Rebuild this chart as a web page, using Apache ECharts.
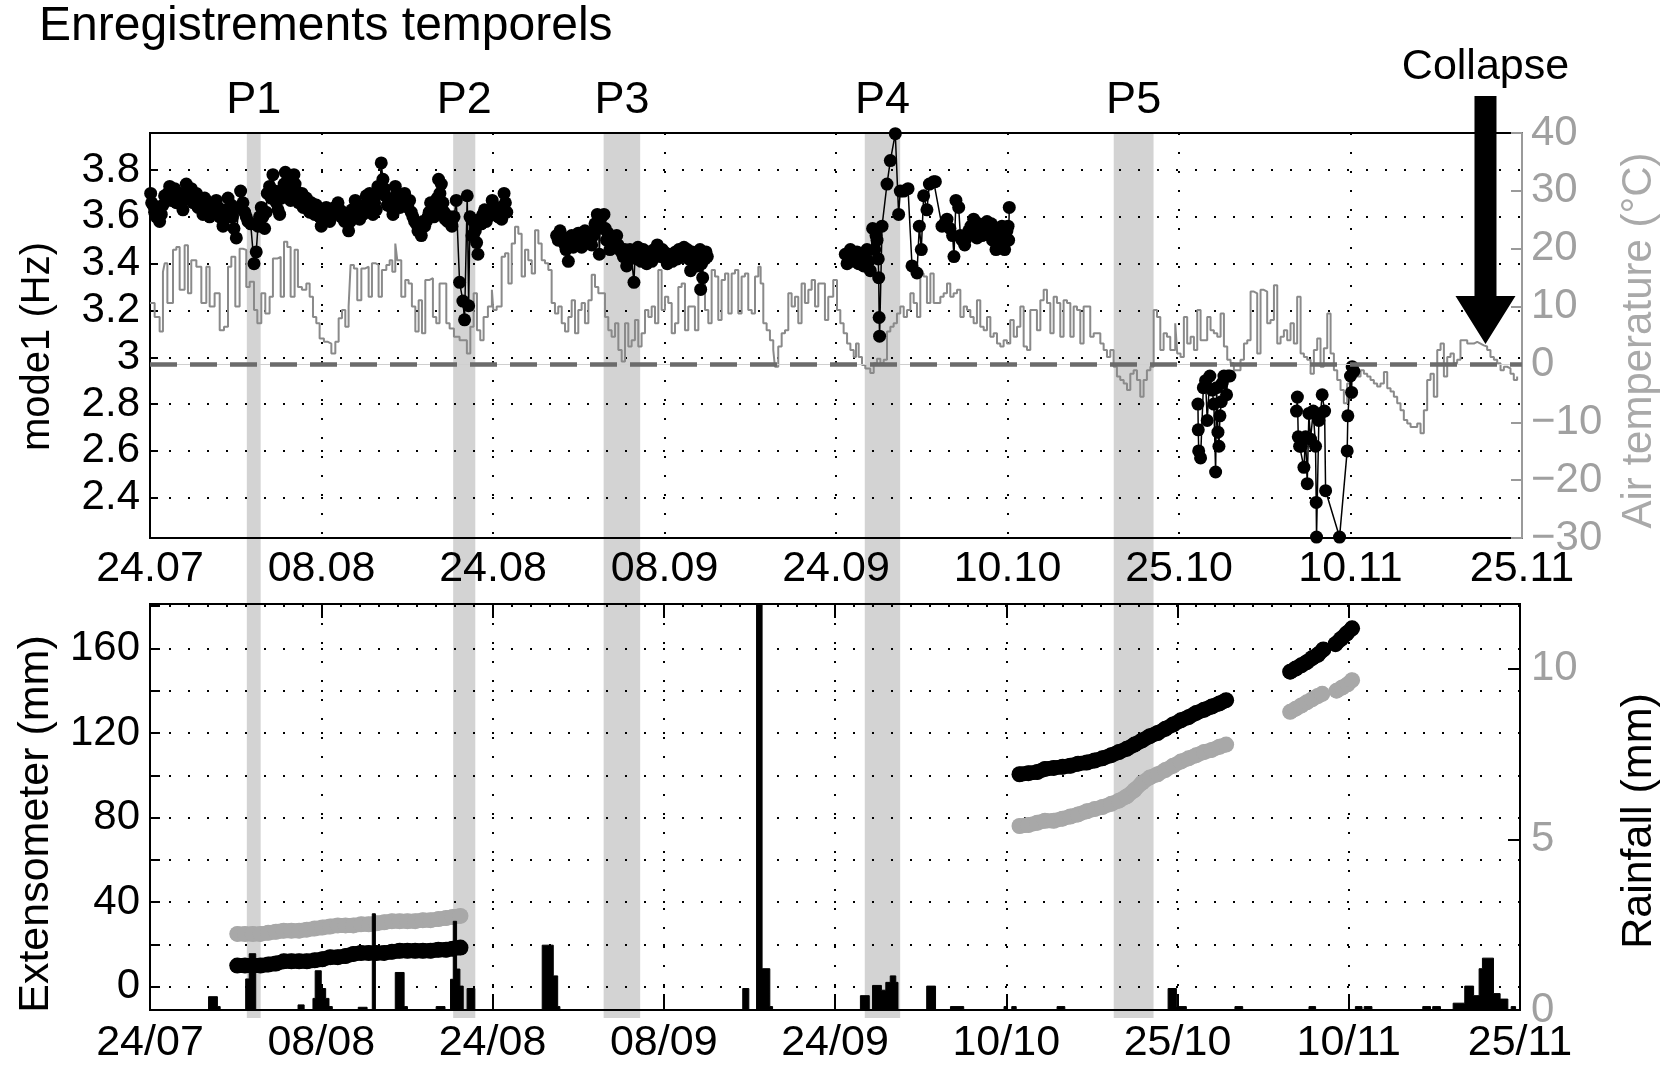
<!DOCTYPE html>
<html><head><meta charset="utf-8">
<script src="https://cdn.jsdelivr.net/npm/echarts@6/dist/echarts.min.js"></script>
<style>html,body{margin:0;padding:0;background:#fff}#c{width:1669px;height:1065px}</style>
</head><body><div id="c"></div>
<script>
// ---------- DATA (x = days since 24 July) ----------
const xTicksTop = ['24.07','08.08','24.08','08.09','24.09','10.10','25.10','10.11','25.11'];
const xTicksBottom = ['24/07','08/08','24/08','08/09','24/09','10/10','25/10','10/11','25/11'];
const bands = [['P1',8.75,10.0],['P2',27.4,29.4],['P3',41.0,44.3],['P4',64.6,67.8],['P5',87.1,90.7]];
const collapseDay = 120.7;

const mode1Seg1 = [[0.06,3.70],[0.27,3.65],[0.57,3.60],[0.87,3.58],[1.17,3.65],[1.48,3.67],[1.78,3.73],[2.08,3.69],[2.38,3.66],[2.68,3.70],[2.98,3.63],[3.28,3.74],[3.58,3.71],[3.89,3.66],[4.19,3.70],[4.49,3.67],[4.79,3.61],[5.09,3.66],[5.39,3.60],[5.69,3.64],[5.99,3.67],[6.30,3.60],[6.60,3.56],[6.90,3.63],[7.05,3.68],[7.35,3.65],[7.59,3.55],[7.80,3.51],[8.01,3.64],[8.19,3.71],[8.55,3.62],[8.86,3.58],[9.40,3.40],[9.76,3.56],[10.06,3.64],[10.36,3.55],[10.60,3.70],[10.81,3.73],[11.11,3.78],[11.42,3.66],[11.72,3.61],[12.02,3.72],[12.23,3.79],[12.47,3.76],[12.71,3.67],[13.01,3.78],[13.22,3.71],[13.43,3.66],[13.73,3.70],[13.98,3.67],[14.28,3.64],[14.58,3.66],[14.88,3.61],[15.18,3.63],[15.48,3.56],[15.78,3.61],[16.08,3.62],[16.39,3.60],[16.69,3.64],[16.99,3.66],[17.29,3.60],[17.59,3.58],[17.95,3.54],[18.25,3.63],[18.55,3.67],[18.95,3.59],[19.25,3.61],[19.55,3.69],[19.85,3.70],[20.15,3.61],[20.45,3.63],[20.60,3.73],[20.90,3.83],[21.05,3.76],[21.27,3.69],[21.66,3.67],[21.96,3.61],[22.17,3.73],[22.47,3.68],[22.71,3.66],[23.01,3.70],[23.31,3.64],[23.61,3.62],[23.92,3.58],[24.22,3.54],[24.52,3.52],[24.82,3.56],[25.12,3.60],[25.36,3.66],[25.66,3.60],[25.87,3.63],[26.08,3.76],[26.33,3.74],[26.48,3.66],[26.69,3.59],[27.29,3.56],[27.68,3.67],[27.98,3.32],[28.28,3.24],[28.43,3.16],[28.67,3.69],[28.80,3.22],[28.92,3.60],[29.10,3.52],[29.40,3.54],[29.64,3.44],[29.79,3.59],[30.09,3.61],[30.39,3.58],[30.69,3.61],[30.93,3.67],[31.18,3.64],[31.48,3.60],[31.78,3.59],[32.00,3.70],[32.24,3.62]];
const mode1Seg1Extra = [[0.15,3.66],[0.42,3.62],[0.72,3.63],[1.02,3.61],[1.32,3.69],[1.62,3.70],[1.93,3.67],[2.23,3.72],[2.53,3.68],[2.83,3.66],[3.13,3.69],[3.43,3.68],[3.73,3.72],[4.04,3.68],[4.34,3.64],[4.64,3.65],[4.94,3.68],[5.24,3.63],[5.54,3.62],[5.84,3.62],[6.15,3.64],[6.45,3.63],[6.75,3.59],[7.20,3.62],[7.45,3.60],[8.40,3.66],[8.70,3.60],[9.10,3.57],[9.60,3.45],[9.90,3.60],[10.20,3.60],[10.50,3.62],[10.95,3.68],[11.27,3.71],[11.57,3.63],[11.87,3.68],[12.12,3.74],[12.35,3.71],[12.59,3.72],[12.86,3.73],[13.11,3.74],[13.33,3.68],[13.58,3.68],[13.85,3.64],[14.13,3.68],[14.43,3.62],[14.73,3.64],[15.03,3.65],[15.33,3.60],[15.63,3.58],[15.93,3.64],[16.24,3.58],[16.54,3.63],[16.84,3.62],[17.14,3.63],[17.44,3.62],[17.77,3.60],[18.10,3.58],[18.40,3.60],[18.75,3.64],[19.10,3.63],[19.40,3.65],[19.70,3.66],[20.00,3.64],[20.30,3.66],[20.75,3.70],[21.16,3.72],[21.46,3.65],[21.81,3.64],[22.06,3.68],[22.32,3.70],[22.59,3.64],[22.86,3.67],[23.16,3.66],[23.46,3.67],[23.76,3.60],[24.07,3.57],[24.37,3.55],[24.67,3.58],[24.97,3.58],[25.24,3.62],[25.51,3.64],[25.76,3.61],[25.97,3.68],[26.20,3.70],[26.58,3.62],[26.90,3.58],[27.10,3.60],[27.48,3.60],[29.25,3.58],[29.52,3.49],[29.95,3.57],[30.24,3.63],[30.54,3.60],[30.81,3.63],[31.05,3.61],[31.33,3.62],[31.63,3.64],[31.90,3.64],[32.12,3.66]];
const mode1Seg2 = [[36.75,3.52],[37.06,3.54],[37.36,3.50],[37.60,3.46],[37.81,3.41],[38.11,3.52],[38.41,3.49],[38.71,3.53],[39.01,3.47],[39.31,3.54],[39.62,3.52],[39.92,3.48],[40.22,3.57],[40.43,3.61],[40.61,3.44],[40.82,3.60],[41.03,3.61],[41.27,3.50],[41.57,3.46],[41.87,3.49],[42.18,3.52],[42.48,3.46],[42.78,3.43],[43.08,3.39],[43.38,3.46],[43.74,3.32],[43.98,3.42],[44.28,3.44],[44.59,3.46],[44.89,3.40],[45.19,3.43],[45.55,3.46],[45.85,3.48],[46.15,3.43],[46.45,3.45],[46.75,3.40],[47.06,3.43],[47.36,3.44],[47.66,3.42],[47.96,3.44],[48.26,3.47],[48.56,3.46],[48.86,3.37],[49.16,3.43],[49.46,3.39],[49.71,3.46],[49.77,3.29],[49.95,3.34],[50.16,3.42],[50.37,3.43]];
const mode1Seg2Extra = [[36.9,3.50],[37.2,3.51],[37.5,3.48],[37.7,3.51],[37.95,3.50],[38.25,3.47],[38.55,3.51],[38.85,3.49],[39.15,3.51],[39.45,3.49],[39.75,3.50],[40.05,3.52],[40.35,3.55],[40.52,3.59],[40.7,3.57],[40.92,3.55],[41.15,3.55],[41.4,3.53],[41.7,3.50],[42.0,3.47],[42.3,3.48],[42.6,3.45],[42.9,3.46],[43.2,3.44],[43.5,3.43],[43.85,3.45],[44.1,3.47],[44.4,3.41],[44.75,3.44],[45.05,3.45],[45.35,3.41],[45.7,3.44],[46.0,3.44],[46.3,3.46],[46.6,3.42],[46.9,3.44],[47.2,3.41],[47.5,3.45],[47.8,3.46],[48.1,3.43],[48.4,3.44],[48.7,3.42],[49.0,3.45],[49.3,3.41],[49.6,3.44],[49.85,3.40],[50.05,3.44],[50.25,3.45]];
const mode1Seg3 = [[62.84,3.44],[63.00,3.40],[63.15,3.43],[63.45,3.42],[63.75,3.43],[64.05,3.40],[64.30,3.44],[64.50,3.39],[64.80,3.46],[65.10,3.37],[65.31,3.55],[65.50,3.46],[65.62,3.52],[65.71,3.50],[65.82,3.42],[65.86,3.34],[65.90,3.17],[65.94,3.09],[66.16,3.56],[66.61,3.74],[66.91,3.84],[67.36,3.955],[67.66,3.61],[67.81,3.71],[68.12,3.71],[68.51,3.72],[68.87,3.39],[69.32,3.36],[69.53,3.56],[69.71,3.46],[69.92,3.69],[70.22,3.63],[70.44,3.74],[70.83,3.75],[70.98,3.75],[71.58,3.56],[72.03,3.59],[72.54,3.52],[72.66,3.43],[72.84,3.67],[73.09,3.64],[73.24,3.52],[73.63,3.48],[73.99,3.54],[74.44,3.59],[74.74,3.51],[75.04,3.54],[75.35,3.56],[75.65,3.58],[76.04,3.57],[76.25,3.53],[76.46,3.46],[76.70,3.49],[77.00,3.56],[77.24,3.46],[77.45,3.54],[77.60,3.50],[77.66,3.64]];
const mode1Seg3Extra = [[63.3,3.46],[63.6,3.41],[63.9,3.45],[64.2,3.42],[64.65,3.42],[64.95,3.41],[71.8,3.57],[72.3,3.55],[73.4,3.50],[73.8,3.51],[74.2,3.56],[74.6,3.53],[74.9,3.57],[75.2,3.52],[75.5,3.55],[75.8,3.54],[76.15,3.50],[76.55,3.52],[76.85,3.50],[77.1,3.48],[77.35,3.52],[77.55,3.56]];
const mode1Seg4 = [[94.71,2.80],[94.74,2.69],[94.78,2.60],[94.95,2.57],[95.20,2.87],[95.40,2.90],[95.55,2.73],[95.79,2.92],[96.00,2.86],[96.15,2.80],[96.31,2.51],[96.40,2.87],[96.52,2.68],[96.61,2.62],[96.70,2.75],[96.82,2.81],[96.91,2.89],[97.06,2.92],[97.30,2.84],[97.42,2.92],[97.60,2.92]];
const mode1Seg5 = [[103.62,2.77],[103.70,2.83],[103.78,2.66],[103.90,2.62],[104.05,2.62],[104.29,2.53],[104.44,2.66],[104.59,2.46],[104.74,2.76],[104.89,2.65],[105.13,2.77],[105.34,2.62],[105.40,2.38],[105.43,2.232],[105.64,2.73],[105.79,2.76],[105.94,2.84],[106.16,2.77],[106.25,2.43],[107.51,2.232],[108.20,2.60],[108.26,2.75],[108.50,2.92],[108.60,2.85],[108.65,2.96],[108.80,2.94]];

const tempJulAug = [[0.0,10.6],[0.42,8.2],[0.87,5.7],[1.17,16.0],[1.33,17.5],[1.57,10.6],[2.08,19.8],[2.38,20.3],[2.68,12.9],[3.13,20.6],[3.43,12.3],[3.73,18.0],[4.19,16.9],[4.64,10.6],[5.09,16.9],[5.39,10.0],[5.84,12.3],[6.30,5.9],[6.69,6.5],[7.05,16.9],[7.35,18.6],[7.71,10.0],[8.10,20.0],[8.40,19.8],[8.70,13.4],[9.01,14.3],[9.40,9.4],[9.70,7.1],[10.06,12.3],[10.42,8.8],[10.81,11.7],[11.11,18.3],[11.51,18.6],[11.81,11.7],[12.11,21.2],[12.41,20.3],[12.71,11.7],[13.07,19.8],[13.37,13.4],[13.73,12.9],[14.13,14.0],[14.43,11.7],[14.73,8.2],[15.03,7.1],[15.33,4.5],[15.72,3.9],[16.08,3.6],[16.39,1.9],[16.75,3.9],[17.05,8.0],[17.35,9.4],[17.65,6.5],[17.95,10.0],[18.13,17.2],[18.43,16.6],[18.73,11.1],[19.10,16.6],[19.46,16.9],[19.76,11.7],[20.06,17.5],[20.36,17.2],[20.66,11.7],[20.96,16.3],[21.36,17.2],[21.66,18.0],[21.90,16.0],[22.17,20.9],[22.35,18.0],[22.71,11.7],[23.07,14.6],[23.37,14.0],[23.67,10.0],[23.98,5.7],[24.28,11.1],[24.58,5.4],[24.88,14.6],[25.27,14.9],[25.57,8.2],[25.87,7.1],[26.17,14.0],[26.48,14.0],[26.78,7.1],[27.08,6.2],[27.47,4.8],[27.98,4.2],[28.37,4.2],[28.64,1.9],[28.95,6.5],[29.25,12.3],[29.55,5.9],[29.85,4.2],[30.15,8.2],[30.54,10.0],[30.90,12.9]];
const tempAugSep = [[31.03,9.4],[31.33,10.0],[31.78,18.6],[32.09,19.2],[32.39,14.0],[32.69,20.9],[32.99,23.8],[33.29,22.6],[33.59,15.2],[33.89,19.8],[34.19,18.0],[34.50,15.7],[34.80,23.2],[35.10,20.9],[35.40,18.0],[35.70,17.5],[36.00,16.3],[36.30,10.6],[36.60,8.8],[36.90,10.0],[37.21,7.1],[37.51,5.7],[37.81,8.2],[38.11,11.1],[38.41,5.4],[38.71,9.4],[39.01,10.6],[39.31,7.1],[39.62,11.1],[39.92,15.5],[40.22,13.4],[40.52,12.3],[40.82,12.3],[41.12,8.2],[41.42,5.9],[41.72,4.8],[42.03,7.1],[42.33,2.5],[42.63,0.5],[42.93,7.1],[43.23,3.1],[43.53,4.2],[43.83,7.7],[44.13,3.1],[44.43,5.4],[44.74,9.4],[45.04,8.2],[45.34,10.0],[45.64,7.1],[45.94,16.3],[46.24,9.4],[46.54,11.7],[46.84,10.6],[47.15,5.4],[47.45,7.1],[47.75,13.4],[48.05,14.0],[48.35,5.9],[48.65,10.0],[48.95,10.0],[49.25,5.9],[49.56,13.4],[49.86,15.2],[50.16,9.4],[50.46,7.1],[50.76,16.3],[51.06,15.2],[51.36,7.7],[51.66,14.6],[51.97,15.7],[52.27,8.8],[52.57,15.7],[52.87,16.3],[53.17,8.8],[53.47,15.2],[53.77,15.7],[54.07,9.4],[54.38,8.8],[54.68,15.2],[54.98,16.9],[55.19,14.0],[55.43,7.1],[55.73,5.9],[56.03,4.2],[56.33,2.5],[56.48,-0.4],[56.78,3.1],[57.09,5.4],[57.39,5.9],[57.69,12.3],[57.99,10.0],[58.29,11.7],[58.59,7.1],[58.89,14.0],[59.19,10.6],[59.50,12.9],[59.80,14.6],[60.10,10.0],[60.40,14.0],[60.70,14.0],[61.00,7.7],[61.30,11.7],[61.75,14.6]];
const tempSepOct = [[62.09,9.4],[62.39,7.1],[62.69,5.4],[63.00,3.6],[63.30,2.5],[63.60,1.3],[63.81,3.6],[64.05,1.3],[64.35,-0.1],[64.65,-0.7],[65.10,-1.5],[65.41,0.2],[65.71,1.0],[66.01,0.2],[66.31,0.8],[66.61,5.7],[66.91,6.5],[67.21,7.1],[67.51,8.8],[67.81,10.0],[68.12,8.2],[68.42,9.4],[68.72,12.3],[69.02,10.6],[69.32,8.2],[69.62,15.7],[69.92,15.2],[70.22,10.6],[70.53,15.7],[70.83,10.6],[71.13,10.6],[71.43,11.7],[71.73,12.3],[72.03,14.0],[72.33,11.7],[72.63,12.3],[72.94,12.9],[73.24,8.2],[73.54,10.0],[73.84,9.4],[74.14,8.2],[74.44,7.1],[74.74,11.1],[75.04,6.5],[75.35,5.9],[75.65,8.2],[75.95,4.8],[76.25,5.4],[76.55,3.6],[76.85,3.1],[77.15,4.2],[77.45,3.6],[77.75,7.7],[78.06,4.8],[78.36,6.5],[78.66,10.0],[78.96,3.1],[79.26,2.5],[79.56,9.4],[79.86,9.4],[80.16,5.9],[80.47,11.1],[80.77,12.9],[81.07,10.6],[81.37,5.4],[81.67,11.7],[81.97,10.6],[82.27,4.8],[82.57,11.1],[82.88,10.6],[83.18,4.8],[83.48,10.0],[83.78,9.4],[84.08,3.6],[84.38,10.0],[84.68,10.0],[84.98,4.8],[85.29,5.4],[85.59,5.4],[85.89,3.6],[86.19,2.5],[86.49,1.3],[86.79,2.5],[87.09,-0.4],[87.39,-2.1],[87.69,-2.7],[88.00,-3.3],[88.30,-4.4],[88.60,-1.6],[88.90,-1.0],[89.20,-2.7],[89.50,-5.6],[89.80,-2.7],[90.10,-1.0],[90.41,-0.4],[90.71,9.4],[91.01,8.2],[91.31,2.5],[91.61,5.4],[91.91,4.8],[92.21,2.5],[92.66,7.1]];
const tempOctNov = [[92.84,1.9],[93.14,1.3],[93.44,8.2],[93.74,3.6],[94.05,4.8],[94.35,2.5],[94.65,9.4],[94.95,4.2],[95.25,4.2],[95.55,8.2],[95.85,5.9],[96.15,5.4],[96.46,4.8],[96.76,8.8],[97.06,3.1],[97.36,0.8],[97.66,0.2],[97.96,-1.0],[98.26,-1.0],[98.56,0.8],[98.87,3.6],[99.17,4.2],[99.47,12.6],[99.77,12.3],[100.07,1.9],[100.37,12.9],[100.67,12.6],[100.97,7.1],[101.27,7.7],[101.58,13.7],[101.88,3.6],[102.18,4.8],[102.48,5.9],[102.78,4.2],[103.08,7.1],[103.38,3.6],[103.68,11.7],[103.99,1.9],[104.29,1.3],[104.59,0.8],[104.89,-1.6],[105.19,2.5],[105.49,4.5],[105.79,-0.4],[106.09,2.8],[106.40,8.8],[106.70,1.9],[107.00,-1.0],[107.30,-2.7],[107.60,-4.4],[107.90,-6.7],[108.20,-3.3],[108.50,-1.0],[108.81,-1.0],[109.11,-2.1],[109.41,-1.0],[109.71,-1.6],[110.01,-2.1],[110.31,-2.7],[110.61,-3.3],[110.91,-3.8],[111.21,-3.3],[111.52,-1.3],[111.82,-4.1],[112.12,-4.7],[112.42,-5.6],[112.72,-6.7],[113.02,-7.9],[113.32,-9.6],[113.63,-10.2],[113.93,-10.8],[114.23,-10.8],[114.53,-10.2],[114.83,-11.9],[115.13,-7.9],[115.43,-2.7],[115.73,-1.6],[116.03,-5.6],[116.34,2.5],[116.64,3.6],[116.94,-2.1],[117.24,1.3],[117.54,1.9],[117.84,0.2],[118.14,0.8],[118.44,4.2],[118.75,4.2],[119.05,3.6],[119.35,3.6],[119.65,3.9],[119.95,3.6],[120.25,3.3],[120.55,3.1],[120.85,2.5],[121.15,1.3],[121.46,0.8],[121.76,0.2],[122.06,-1.0],[122.36,-0.4],[122.66,-0.7],[122.96,-1.6],[123.26,-2.7],[123.56,-2.1]];

const extBlackSeg1 = [[7.9,10],[8.6,10],[9.3,10],[10.0,10],[10.7,10.5],[11.4,11],[12.1,12],[12.8,12],[13.5,12],[14.2,12],[14.9,12.5],[15.6,13],[16.3,14],[17.0,14],[17.7,14.5],[18.4,15.5],[19.1,16],[19.8,16],[20.5,16],[21.2,16],[21.9,16.5],[22.6,17],[23.3,17],[24.0,17],[24.7,17],[25.4,17],[26.1,17.5],[26.8,17.5],[27.4,18],[28.1,18.5]];
const extGreySeg1 = [[7.9,25],[8.6,25],[9.3,25],[10.0,25],[10.7,25.5],[11.4,26],[12.1,26.5],[12.8,26.5],[13.5,26.5],[14.2,27],[14.9,27.5],[15.6,28],[16.3,28.5],[17.0,29],[17.7,29],[18.4,29],[19.1,29.5],[19.8,29.5],[20.5,30],[21.2,30.5],[21.9,31],[22.6,31],[23.3,31],[24.0,31],[24.7,31.5],[25.4,31.5],[26.1,32],[26.8,32.5],[27.4,33],[28.1,33.5]];
const extBlackSeg2 = [[78.7,100.5],[79.5,101],[80.3,101.5],[81.0,103],[81.8,103.5],[82.6,104],[83.3,104.5],[84.0,105.5],[84.8,106],[85.5,107],[86.2,108],[87.0,109.5],[87.7,111],[88.4,112.5],[89.1,114.5],[89.8,116.5],[90.5,118.5],[91.2,120],[91.9,122],[92.6,124],[93.3,126],[94.0,127.5],[94.7,129.5],[95.4,131],[96.1,132.5],[96.8,134],[97.4,135.5]];
const extGreySeg2 = [[78.7,76],[79.5,76.5],[80.3,77.5],[81.0,78.5],[81.8,78.5],[82.6,79.5],[83.3,80.5],[84.0,81.5],[84.8,83],[85.5,84],[86.2,85],[87.0,86.5],[87.7,88],[88.4,90],[89.1,93],[89.8,96.5],[90.5,99],[91.2,100.5],[91.9,102.5],[92.6,104.5],[93.3,106.5],[94.0,108],[94.7,109.5],[95.4,111],[96.1,112],[96.8,113.5],[97.4,114.5]];
const extBlackSeg3 = [[103.2,149],[103.7,150.5],[104.2,152],[104.7,153.5],[105.2,155.5],[105.7,157],[106.2,159.5]];
const extBlackSeg4 = [[107.3,162],[107.8,164.5],[108.3,167],[108.8,169.5]];
const extGreySeg3 = [[103.2,130],[103.7,131.5],[104.2,133],[104.7,134.5],[105.2,136],[105.7,137.5],[106.1,138.5]];
const extGreySeg4 = [[107.4,140],[107.9,141.5],[108.4,143],[108.8,145]];

// rainfall: [day, mm] held until the next entry
const rainfall = [[0,0],[5.3,0.39],[6.1,0.1],[6.35,0],[8.66,0.91],[8.98,1.65],[9.57,0],[13.4,0.15],[13.95,0],[14.75,0.34],[14.95,1.15],[15.5,0.63],[15.9,0.34],[16.2,0.1],[16.5,0],[18.85,0.08],[19.65,0],[20.12,2.82],[20.4,0],[22.2,1.1],[23.0,0.1],[23.3,0],[25.9,0.1],[26.7,0],[27.2,0.9],[27.45,2.6],[27.75,1.2],[28.05,0.7],[28.35,0],[28.7,0.63],[29.4,0],[35.5,1.9],[36.5,1.0],[36.9,0.1],[37.1,0],[53.65,0.63],[54.2,0],[54.9,12.5],[55.4,1.21],[56.1,0.1],[56.35,0],[64.3,0.42],[65.1,0],[65.4,0.72],[66.2,0.58],[66.6,0.81],[67.0,1.0],[67.5,0.81],[67.7,0],[70.3,0.70],[71.1,0],[72.45,0.1],[73.65,0],[77.3,0.1],[77.6,0],[78.0,0.1],[78.4,0],[82.1,0.1],[82.8,0],[92.15,0.63],[92.9,0.1],[93.8,0],[98.2,0.1],[98.9,0],[104.9,0.1],[105.5,0],[109.1,0.1],[109.7,0],[109.9,0.1],[110.6,0],[115.2,0.1],[115.9,0],[116.1,0.1],[116.8,0],[117.95,0.2],[119.0,0.70],[119.8,0.42],[120.3,1.21],[120.6,1.52],[121.6,0.48],[122.2,0.32],[122.9,0],[123.2,0.1],[123.6,0],[124,0]];

// ---------- LAYOUT ----------
const FONT = 'Liberation Sans, Arial, sans-serif';
const G1 = {left:150, right:147, top:133, height:405};
const G2 = {left:150, right:147, top:604, height:408};
const dotted = {color:'#000', type:[2,17], width:2};

const byDay = (a, b) => a[0] - b[0];
const temperature = tempJulAug.concat(tempAugSep, tempSepOct, tempOctNov);
const mode1Segments = [
  mode1Seg1.concat(mode1Seg1Extra).sort(byDay),
  mode1Seg2.concat(mode1Seg2Extra).sort(byDay),
  mode1Seg3.concat(mode1Seg3Extra).sort(byDay),
  mode1Seg4, mode1Seg5
];

function xAxisCfg(grid, labels, opts) {
  return Object.assign({
    gridIndex: grid, type:'value', min:0, max:124, interval:15.5,
    axisLine:{show:false, onZero:false}, axisTick:{show:false},
    axisLabel:{fontSize:43, color:'#000', fontFamily:FONT, margin:10,
      formatter: v => labels[Math.round(v/15.5)] || ''},
    splitLine:{show:true, lineStyle:dotted}
  }, opts || {});
}

const series = [];
series.push({
  type:'line', name:'temp', xAxisIndex:0, yAxisIndex:1, data: temperature, step:'end',
  showSymbol:false, lineStyle:{color:'#8a8a8a', width:2}, z:2,
  markLine:{silent:true, symbol:['none','none'], label:{show:false}, animation:false,
    data:[{yAxis:0, lineStyle:{color:'#cfcfcf', width:1, type:'solid'}},
          {yAxis:0, lineStyle:{color:'#6b6b6b', width:4.5, type:[27,13]}}]}
});
mode1Segments.forEach(d => series.push({
  type:'line', xAxisIndex:0, yAxisIndex:0, data:d, symbol:'circle', symbolSize:13, showSymbol:true,
  itemStyle:{color:'#000'}, lineStyle:{color:'#000', width:1.5}, z:4
}));
[[extGreySeg1,'#a8a8a8'],[extGreySeg2,'#a8a8a8'],[extGreySeg3,'#a8a8a8'],[extGreySeg4,'#a8a8a8'],
 [extBlackSeg1,'#000'],[extBlackSeg2,'#000'],[extBlackSeg3,'#000'],[extBlackSeg4,'#000']].forEach(([d,c]) => series.push({
  type:'line', xAxisIndex:1, yAxisIndex:2, data:d, symbol:'circle', symbolSize:16, showSymbol:true,
  itemStyle:{color:c}, lineStyle:{color:c, width:15, cap:'round', join:'round'}, z:3
}));
series.push({
  type:'line', xAxisIndex:1, yAxisIndex:3, data:rainfall, step:'end', showSymbol:false,
  lineStyle:{color:'#000', width:1}, areaStyle:{color:'#000', opacity:1}, z:5
});

const option = {
  backgroundColor:'#fff', animation:false,
  grid:[
    Object.assign({show:true, borderColor:'#000', borderWidth:2}, G1),
    Object.assign({show:true, borderColor:'#000', borderWidth:2}, G2)
  ],
  xAxis:[
    xAxisCfg(0, xTicksTop),
    xAxisCfg(1, xTicksBottom, {
      axisLine:{show:true, onZero:false, lineStyle:{color:'#000', width:2}},
      axisTick:{show:true, inside:true, length:16, lineStyle:{color:'#000', width:2}},
      axisLabel:{fontSize:43, color:'#000', fontFamily:FONT, margin:12, formatter: v => xTicksBottom[Math.round(v/15.5)] || ''}
    }),
    xAxisCfg(1, xTicksBottom, {position:'top',
      axisLine:{show:true, onZero:false, lineStyle:{color:'#000', width:2}},
      axisTick:{show:true, inside:true, length:14, lineStyle:{color:'#000', width:2}},
      axisLabel:{show:false}, splitLine:{show:false}})
  ],
  yAxis:[
    {gridIndex:0, type:'value', position:'left', min:2.228, max:3.958, minInterval:0.2, maxInterval:0.2,
     name:'mode1 (Hz)', nameLocation:'middle', nameGap:92, nameRotate:90,
     nameTextStyle:{fontSize:40, color:'#000', fontFamily:FONT, padding:[0,22,0,0]},
     axisLine:{show:true, onZero:false, lineStyle:{color:'#000', width:2}},
     axisTick:{show:true, inside:true, length:8, lineStyle:{color:'#000', width:2}},
     axisLabel:{fontSize:42, color:'#000', fontFamily:FONT, margin:10,
       formatter: v => { const r = Math.round(v*5)/5; return Math.abs(v-r) > 1e-6 ? '' : String(parseFloat(r.toFixed(1))); }},
     splitLine:{show:true, lineStyle:dotted}},
    {gridIndex:0, type:'value', position:'right', min:-30, max:40, interval:10,
     name:'Air temperature (°C)', nameLocation:'middle', nameGap:96, nameRotate:90,
     nameTextStyle:{fontSize:42, color:'#a9a9a9', fontFamily:FONT, padding:[0,10,0,0]},
     axisLine:{show:true, onZero:false, lineStyle:{color:'#9a9a9a', width:2}},
     axisTick:{show:true, inside:true, length:11, lineStyle:{color:'#9a9a9a', width:2}},
     axisLabel:{fontSize:42, color:'#a0a0a0', fontFamily:FONT, margin:9,
       formatter: v => v < 0 ? '\u2212' + (-v) : String(v)},
     splitLine:{show:false}},
    {gridIndex:1, type:'value', position:'left', min:-11, max:181, minInterval:20, maxInterval:20,
     name:'Extensometer (mm)', nameLocation:'middle', nameGap:92, nameRotate:90,
     nameTextStyle:{fontSize:43, color:'#000', fontFamily:FONT, padding:[0,34,0,0]},
     axisLine:{show:true, onZero:false, lineStyle:{color:'#000', width:2}},
     axisTick:{show:true, inside:true, length:10, lineStyle:{color:'#000', width:2}},
     axisLabel:{fontSize:42, color:'#000', fontFamily:FONT, margin:10,
       formatter: v => (v >= 0 && Math.abs(v % 40) < 1e-6) ? String(v) : ''},
     splitLine:{show:true, lineStyle:dotted}},
    {gridIndex:1, type:'value', position:'right', min:0, max:11.9, interval:5,
     name:'Rainfall (mm)', nameLocation:'middle', nameGap:98, nameRotate:90,
     nameTextStyle:{fontSize:43, color:'#000', fontFamily:FONT, padding:[0,28,0,0]},
     axisLine:{show:true, onZero:false, lineStyle:{color:'#000', width:2}},
     axisTick:{show:true, inside:true, length:12, lineStyle:{color:'#000', width:2}},
     axisLabel:{fontSize:42, color:'#a0a0a0', fontFamily:FONT, margin:11,
       formatter: v => (Math.abs(v % 5) < 1e-6) ? String(v) : ''},
     splitLine:{show:false}}
  ],
  series: series
};

const chart = echarts.init(document.getElementById('c'));
chart.setOption(option);

const px = d => chart.convertToPixel({xAxisIndex:0}, d);
const graphics = [];
graphics.push({type:'text', x:39, y:27, style:{text:'Enregistrements temporels', fontSize:48, fontFamily:FONT, fill:'#000', align:'left', verticalAlign:'middle'}});
bands.forEach(([name, a, b]) => {
  const x0 = px(a), x1 = px(b);
  graphics.push({type:'rect', z:-1, silent:true,
    shape:{x:x0, y:G1.top, width:x1-x0, height:(G2.top + G2.height + 6) - G1.top},
    style:{fill:'#d3d3d3'}});
  graphics.push({type:'text', x:(x0+x1)/2, y:101,
    style:{text:name, fontSize:45, fontFamily:FONT, fill:'#000', align:'center', verticalAlign:'middle'}});
});
const cx = px(collapseDay);
graphics.push({type:'text', x:cx, y:67, style:{text:'Collapse', fontSize:43, fontFamily:FONT, fill:'#000', align:'center', verticalAlign:'middle'}});
graphics.push({type:'polygon', z:10, shape:{points:[[cx-11,96],[cx+11,96],[cx+11,296],[cx+30,296],[cx,344],[cx-30,296],[cx-11,296]]}, style:{fill:'#000'}});
chart.setOption({graphic: graphics});
</script>
</body></html>
